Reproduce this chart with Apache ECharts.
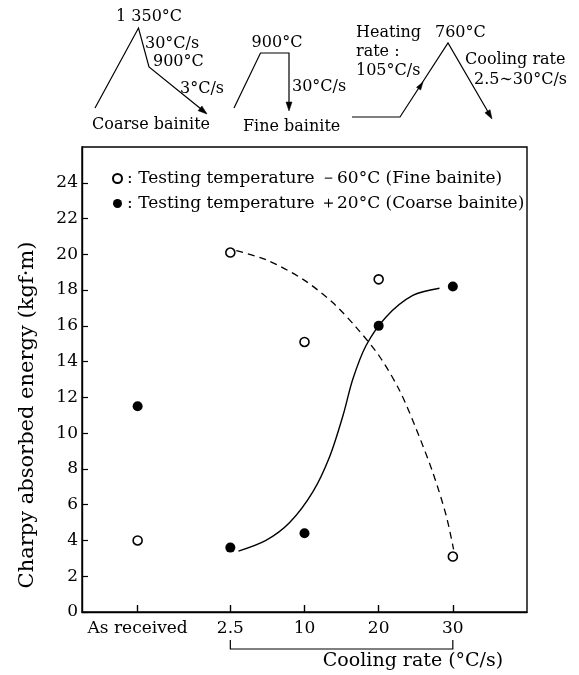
<!DOCTYPE html>
<html>
<head>
<meta charset="utf-8">
<script src="https://cdn.jsdelivr.net/npm/echarts@6/dist/echarts.min.js"></script>
<style>html,body{margin:0;padding:0;background:#fff}#c{width:579px;height:675px}</style>
</head>
<body>
<div id="c"></div>
<script>
// ---- data ----
// x positions on the (non-linear) cooling-rate axis: As received, 2.5, 10, 20, 30 °C/s
const xTickPos = [-0.25, 1, 2, 3, 4];
const xTickLabels = ['As received', '2.5', '10', '20', '30'];
const yTicks = [0, 2, 4, 6, 8, 10, 12, 14, 16, 18, 20, 22, 24];
// open circles: testing temperature -60°C (fine bainite)
const fineValues = [4.0, 20.1, 15.1, 18.6, 3.1];
// filled circles: testing temperature +20°C (coarse bainite)
const coarseValues = [11.5, 3.6, 4.4, 16.0, 18.2];
// fitted curves
const fineCurveX = [1.08, 1.48, 1.98, 2.38, 2.70, 3.01, 3.28, 3.50, 3.73, 3.91, 4.01];
const fineCurveY = [20.2, 19.7, 18.6, 17.3, 15.9, 14.3, 12.4, 10.3, 7.8, 5.4, 3.5];
const coarseCurveX = [1.11, 1.48, 1.80, 2.11, 2.34, 2.52, 2.65, 2.83, 3.10, 3.46, 3.82];
const coarseCurveY = [3.4, 4.0, 5.0, 6.7, 8.7, 11.0, 13.0, 14.9, 16.5, 17.7, 18.1];

const fineName = ': Testing temperature －60°C (Fine bainite)';
const coarseName = ': Testing temperature ＋20°C (Coarse bainite)';

const FF = '"DejaVu Serif", serif';
const chart = echarts.init(document.getElementById('c'), null, {renderer: 'canvas'});

function pairs(xs, ys) { return xs.map((x, i) => [x, ys[i]]); }

function arrowHead(x1, y1, x2, y2, len, half) {
  len = len || 9; half = half || 3;
  const dx = x2 - x1, dy = y2 - y1, L = Math.hypot(dx, dy);
  const ux = dx / L, uy = dy / L;
  const bx = x2 - ux * len, by = y2 - uy * len;
  return [[x2, y2], [bx - uy * half, by + ux * half], [bx + uy * half, by - ux * half]];
}
function txt(t, x, y, size, align) {
  return {type: 'text', silent: true, style: {text: t, x: x, y: y, fill: '#000',
    font: (size || 16) + 'px ' + FF, align: align || 'left', verticalAlign: 'middle'}};
}
function pl(points) {
  return {type: 'polyline', silent: true, shape: {points: points}, style: {stroke: '#000', lineWidth: 1.2, fill: null}};
}
function head(p) {
  return {type: 'polygon', silent: true, shape: {points: p}, style: {fill: '#000', stroke: '#000', lineWidth: 0.5}};
}

const schematic = [
  // coarse bainite
  pl([[95, 108], [138.5, 28], [149, 67], [206, 113]]),
  head(arrowHead(149, 67, 207, 114)),
  txt('1 350°C', 116, 17),
  txt('30°C/s', 145, 44),
  txt('900°C', 153, 62),
  txt('3°C/s', 180, 89),
  txt('Coarse bainite', 92, 125),
  // fine bainite
  pl([[234, 108], [260.5, 53], [289, 53], [289, 105]]),
  head(arrowHead(289, 53, 289, 111)),
  txt('900°C', 277, 43, 16, 'center'),
  txt('30°C/s', 292, 87),
  txt('Fine bainite', 243, 127),
  // intercritical
  pl([[352, 117], [400, 117], [448, 43], [491, 117]]),
  head(arrowHead(448, 43, 492, 119)),
  head(arrowHead(400, 117, 423, 82, 8, 2.5)),
  txt('Heating', 356, 33),
  txt('rate :', 356, 52),
  txt('105°C/s', 356, 71),
  txt('760°C', 435, 33),
  txt('Cooling rate', 465, 60),
  txt('2.5∼30°C/s', 474, 80)
];
const yName = {type: 'text', silent: true, x: 28, y: 415, rotation: Math.PI / 2,
  style: {text: 'Charpy absorbed energy (kgf·m)', fill: '#000', font: '21px ' + FF, align: 'center', verticalAlign: 'middle'}};

chart.setOption({
  animation: false,
  backgroundColor: '#fff',
  grid: {left: 82, right: 52, top: 147, bottom: 63, show: true, borderColor: '#000', borderWidth: 1.4, backgroundColor: 'transparent'},
  legend: {
    orient: 'vertical', left: 107, top: 165, itemWidth: 9, itemHeight: 9, itemGap: 8,
    textStyle: {fontFamily: FF, fontSize: 17, color: '#000'},
    data: [{name: fineName, icon: 'circle'}, {name: coarseName, icon: 'circle'}],
    selectedMode: false
  },
  xAxis: {
    type: 'value', min: -1, max: 5,
    axisLine: {show: true, onZero: false, lineStyle: {color: '#000', width: 1.4}},
    axisTick: {show: true, inside: true, length: 7, customValues: xTickPos, lineStyle: {color: '#000', width: 1.4}},
    axisLabel: {customValues: xTickPos, color: '#000', fontFamily: FF, fontSize: 17, margin: 8,
      formatter: function (v) { const i = xTickPos.indexOf(v); return i >= 0 ? xTickLabels[i] : ''; }},
    splitLine: {show: false}
  },
  yAxis: {
    type: 'value', min: 0, max: 26, interval: 2,
    axisLine: {show: true, onZero: false, lineStyle: {color: '#000', width: 1.4}},
    axisTick: {show: true, inside: true, length: 6, customValues: yTicks, lineStyle: {color: '#000', width: 1.2}},
    axisLabel: {customValues: yTicks, color: '#000', fontFamily: FF, fontSize: 17, margin: 4},
    splitLine: {show: false}
  },
  series: [
    {type: 'line', name: 'fineCurve', data: pairs(fineCurveX, fineCurveY), smooth: 0.3, showSymbol: false,
      lineStyle: {color: '#000', width: 1.3, type: [7, 5]}, z: 2, silent: true},
    {type: 'line', name: 'coarseCurve', data: pairs(coarseCurveX, coarseCurveY), smooth: 0.3, showSymbol: false,
      lineStyle: {color: '#000', width: 1.4}, z: 2, silent: true},
    {type: 'scatter', name: fineName, data: pairs(xTickPos, fineValues), symbol: 'circle', symbolSize: 9,
      itemStyle: {color: '#fff', borderColor: '#000', borderWidth: 1.6, opacity: 1}, z: 5},
    {type: 'scatter', name: coarseName, data: pairs(xTickPos, coarseValues), symbol: 'circle', symbolSize: 10,
      itemStyle: {color: '#000', opacity: 1}, z: 5}
  ],
  graphic: schematic.concat([yName])
});

// bracket under the cooling-rate ticks, placed through the axis scale
const pA = chart.convertToPixel({gridIndex: 0}, [xTickPos[1], 0]);
const pB = chart.convertToPixel({gridIndex: 0}, [xTickPos[4], 0]);
chart.setOption({
  graphic: schematic.concat([
    yName,
    pl([[pA[0], pA[1] + 28], [pA[0], pA[1] + 37], [pB[0], pB[1] + 37], [pB[0], pB[1] + 28]]),
    txt('Cooling rate (°C/s)', 413, 661, 19, 'center')
  ])
});
</script>
</body>
</html>
